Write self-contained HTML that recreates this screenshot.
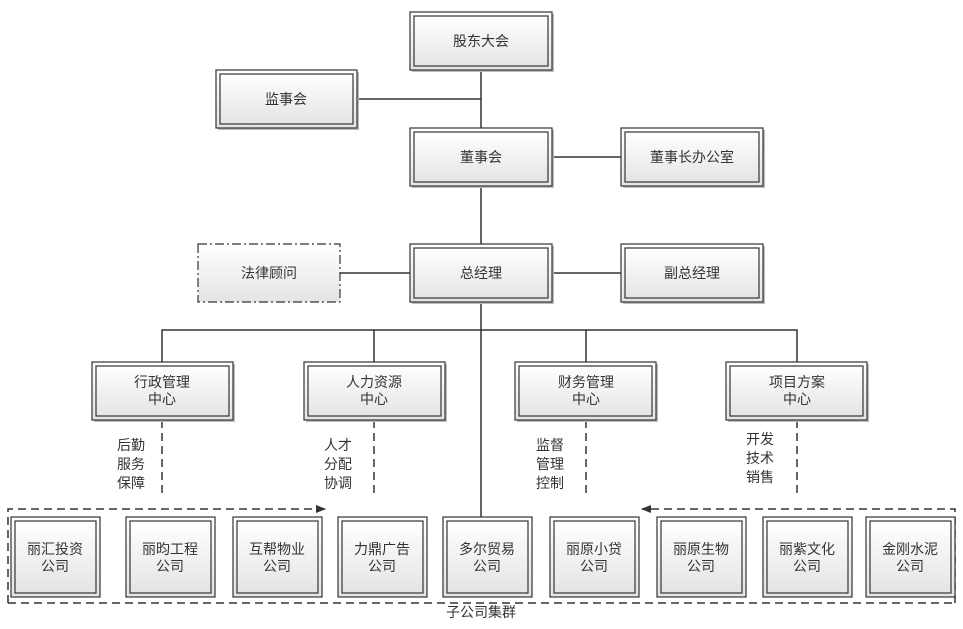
<!DOCTYPE html>
<html><head><meta charset="utf-8"><style>
body{margin:0;background:#fff}
svg text{font-family:"Liberation Sans","Noto Sans CJK SC",sans-serif;font-size:14px;fill:#333;text-anchor:middle}
</style></head><body>
<svg width="963" height="624" viewBox="0 0 963 624" xmlns="http://www.w3.org/2000/svg">
<defs>
<linearGradient id="g" x1="0" y1="0" x2="0" y2="1"><stop offset="0" stop-color="#fff"/><stop offset="1" stop-color="#e4e4e4"/></linearGradient>
<marker id="ar" markerWidth="10" markerHeight="8" refX="9" refY="4" orient="auto" markerUnits="userSpaceOnUse"><path d="M0,0 L10,4 L0,8z" fill="#333"/></marker>
</defs>
<g stroke="#333" stroke-width="1.5" fill="none">
<line x1="481" y1="70" x2="481" y2="128"/>
<line x1="357" y1="99" x2="481" y2="99"/>
<line x1="481" y1="186" x2="481" y2="244"/>
<line x1="552" y1="157" x2="621" y2="157"/>
<line x1="340" y1="273" x2="410" y2="273"/>
<line x1="552" y1="273" x2="621" y2="273"/>
<line x1="481" y1="302" x2="481" y2="517"/>
<polyline points="162,362 162,330 797,330 797,362"/>
<line x1="374" y1="330" x2="374" y2="362"/>
<line x1="586" y1="330" x2="586" y2="362"/>
<g stroke-dasharray="8,5">
<line x1="162" y1="420" x2="162" y2="496"/>
<line x1="374" y1="420" x2="374" y2="496"/>
<line x1="586" y1="420" x2="586" y2="496"/>
<line x1="797" y1="420" x2="797" y2="496"/>
<polyline points="8,603 8,509 325,509" marker-end="url(#ar)"/>
<polyline points="955,603 955,509 642,509" marker-end="url(#ar)"/>
<line x1="8" y1="603" x2="955" y2="603"/>
</g>
</g>
<g id="boxes">
<!-- helper: double box -->
</g>
<g stroke="#333" stroke-width="1.2">
<g fill="url(#g)">
<!-- top -->
<rect x="410" y="12" width="142" height="58" fill="#bbb" stroke="none" transform="translate(2,2)"/>
<rect x="410" y="12" width="142" height="58"/><rect x="414" y="16" width="134" height="50"/>
<rect x="218" y="72" width="141" height="58" fill="#bbb" stroke="none"/>
<rect x="216" y="70" width="141" height="58"/><rect x="220" y="74" width="133" height="50"/>
<rect x="412" y="130" width="142" height="58" fill="#bbb" stroke="none"/>
<rect x="410" y="128" width="142" height="58"/><rect x="414" y="132" width="134" height="50"/>
<rect x="623" y="130" width="142" height="58" fill="#bbb" stroke="none"/>
<rect x="621" y="128" width="142" height="58"/><rect x="625" y="132" width="134" height="50"/>
<rect x="198" y="244" width="142" height="58" stroke-dasharray="9,3,2,3"/>
<rect x="412" y="246" width="142" height="58" fill="#bbb" stroke="none"/>
<rect x="410" y="244" width="142" height="58"/><rect x="414" y="248" width="134" height="50"/>
<rect x="623" y="246" width="142" height="58" fill="#bbb" stroke="none"/>
<rect x="621" y="244" width="142" height="58"/><rect x="625" y="248" width="134" height="50"/>
<!-- centers -->
<rect x="94" y="364" width="141" height="58" fill="#bbb" stroke="none"/>
<rect x="92" y="362" width="141" height="58"/><rect x="96" y="366" width="133" height="50"/>
<rect x="306" y="364" width="141" height="58" fill="#bbb" stroke="none"/>
<rect x="304" y="362" width="141" height="58"/><rect x="308" y="366" width="133" height="50"/>
<rect x="517" y="364" width="141" height="58" fill="#bbb" stroke="none"/>
<rect x="515" y="362" width="141" height="58"/><rect x="519" y="366" width="133" height="50"/>
<rect x="728" y="364" width="141" height="58" fill="#bbb" stroke="none"/>
<rect x="726" y="362" width="141" height="58"/><rect x="730" y="366" width="133" height="50"/>
<!-- companies -->
<rect x="11" y="517" width="89" height="80"/><rect x="15" y="521" width="81" height="72"/>
<rect x="126" y="517" width="89" height="80"/><rect x="130" y="521" width="81" height="72"/>
<rect x="233" y="517" width="89" height="80"/><rect x="237" y="521" width="81" height="72"/>
<rect x="338" y="517" width="89" height="80"/><rect x="342" y="521" width="81" height="72"/>
<rect x="443" y="517" width="89" height="80"/><rect x="447" y="521" width="81" height="72"/>
<rect x="550" y="517" width="89" height="80"/><rect x="554" y="521" width="81" height="72"/>
<rect x="657" y="517" width="89" height="80"/><rect x="661" y="521" width="81" height="72"/>
<rect x="763" y="517" width="89" height="80"/><rect x="767" y="521" width="81" height="72"/>
<rect x="866" y="517" width="89" height="80"/><rect x="870" y="521" width="81" height="72"/>
</g></g>
<g>
<text x="481" y="46">股东大会</text>
<text x="286" y="104">监事会</text>
<text x="481" y="162">董事会</text>
<text x="692" y="162">董事长办公室</text>
<text x="269" y="278">法律顾问</text>
<text x="481" y="278">总经理</text>
<text x="692" y="278">副总经理</text>
<text x="162" y="387">行政管理</text><text x="162" y="404">中心</text>
<text x="374" y="387">人力资源</text><text x="374" y="404">中心</text>
<text x="586" y="387">财务管理</text><text x="586" y="404">中心</text>
<text x="797" y="387">项目方案</text><text x="797" y="404">中心</text>
<text x="131" y="450">后勤</text><text x="131" y="469">服务</text><text x="131" y="488">保障</text>
<text x="338" y="450">人才</text><text x="338" y="469">分配</text><text x="338" y="488">协调</text>
<text x="550" y="450">监督</text><text x="550" y="469">管理</text><text x="550" y="488">控制</text>
<text x="760" y="444">开发</text><text x="760" y="463">技术</text><text x="760" y="482">销售</text>
<text x="55" y="554">丽汇投资</text><text x="55" y="571">公司</text>
<text x="170" y="554">丽昀工程</text><text x="170" y="571">公司</text>
<text x="277" y="554">互帮物业</text><text x="277" y="571">公司</text>
<text x="382" y="554">力鼎广告</text><text x="382" y="571">公司</text>
<text x="487" y="554">多尔贸易</text><text x="487" y="571">公司</text>
<text x="594" y="554">丽原小贷</text><text x="594" y="571">公司</text>
<text x="701" y="554">丽原生物</text><text x="701" y="571">公司</text>
<text x="807" y="554">丽紫文化</text><text x="807" y="571">公司</text>
<text x="910" y="554">金刚水泥</text><text x="910" y="571">公司</text>
<text x="481" y="617">子公司集群</text>
</g>
</svg>
</body></html>
